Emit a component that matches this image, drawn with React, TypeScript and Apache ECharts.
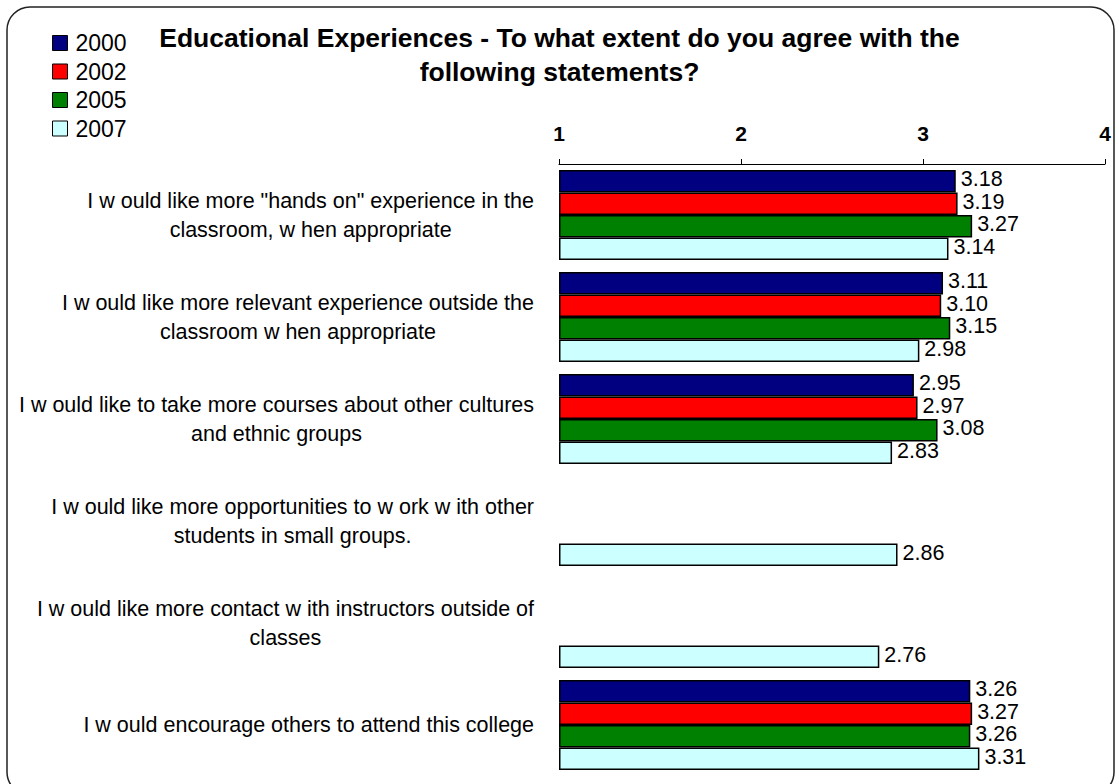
import React, { useEffect, useRef } from 'react';
import * as echarts from 'echarts';

const categories = [
  'I w ould like more "hands on" experience in the\nclassroom, w hen appropriate',
  'I w ould like more relevant experience outside the\nclassroom w hen appropriate',
  'I w ould like to take more courses about other cultures\nand ethnic groups',
  'I w ould like more opportunities to w ork w ith other\nstudents in small groups.',
  'I w ould like more contact w ith instructors outside of\nclasses',
  'I w ould encourage others to attend this college',
];
const years = ['2000', '2002', '2005', '2007'];
const values2000 = [3.18, 3.11, 2.95, null, null, 3.26];
const values2002 = [3.19, 3.1, 2.97, null, null, 3.27];
const values2005 = [3.27, 3.15, 3.08, null, null, 3.26];
const values2007 = [3.14, 2.98, 2.83, 2.86, 2.76, 3.31];
const seriesValues = [values2000, values2002, values2005, values2007];
const colors = ['#000080', '#FF0000', '#008000', '#CCFFFF'];
const axisMin = 1;
const axisMax = 4;
const axisStep = 1;
const titleText = 'Educational Experiences - To what extent do you agree with the\nfollowing statements?';

const FONT = '"Liberation Sans", Arial, sans-serif';
const CAT_SIZE = 21.5;

export default function App() {
  const ref = useRef<HTMLDivElement>(null);
  useEffect(() => {
    if (!ref.current) return;
    const chart = echarts.init(ref.current, null, { renderer: 'svg' });

    const canvas = document.createElement('canvas');
    const ctx = canvas.getContext('2d')!;
    ctx.font = `${CAT_SIZE}px "Liberation Sans"`;
    const rich: Record<string, any> = {};
    categories.forEach((c, i) => {
      const w = Math.max(...c.split('\n').map((l) => ctx.measureText(l).width)) + 2;
      rich['r' + i] = {
        width: w,
        align: 'center',
        fontSize: CAT_SIZE,
        lineHeight: 29,
        fontFamily: FONT,
        color: '#000',
      };
    });

    chart.setOption({
      animation: false,
      backgroundColor: '#fff',
      title: {
        text: titleText,
        left: 'center',
        top: 21,
        padding: 0,
        textStyle: {
          fontSize: 26.5,
          fontWeight: 'bold',
          lineHeight: 34,
          fontFamily: FONT,
          color: '#000',
        },
      },
      legend: {
        orient: 'vertical',
        left: 52,
        top: 29,
        padding: 0,
        itemGap: 0.5,
        itemWidth: 15,
        itemHeight: 15,
        icon: 'rect',
        data: years,
        textStyle: {
          fontSize: 23,
          lineHeight: 28,
          fontFamily: FONT,
          color: '#000',
          padding: [0, 0, 0, 3],
        },
        itemStyle: { borderColor: '#000', borderWidth: 1 },
      },
      graphic: [
        {
          type: 'rect',
          silent: true,
          z: -1,
          shape: { x: 7, y: 7, width: 1107, height: 788, r: 23 },
          style: { fill: 'none', stroke: '#222', lineWidth: 1.5 },
        },
      ],
      grid: { left: 559, right: 14, top: 164, bottom: 8, containLabel: false },
      xAxis: {
        type: 'value',
        position: 'top',
        min: axisMin,
        max: axisMax,
        interval: axisStep,
        startValue: axisMin,
        axisLine: { show: true, lineStyle: { color: '#000', width: 1 } },
        axisTick: { show: true, length: 5, lineStyle: { color: '#000' } },
        axisLabel: {
          fontSize: 21,
          fontWeight: 'bold',
          color: '#000',
          fontFamily: FONT,
          margin: 20,
        },
        splitLine: { show: false },
      },
      yAxis: {
        type: 'category',
        inverse: true,
        data: categories,
        axisLine: { show: false },
        axisTick: { show: false },
        axisLabel: {
          margin: 24,
          formatter: (v: string, i: number) =>
            v
              .split('\n')
              .map((l) => `{r${i}|${l}}`)
              .join('\n'),
          rich,
        },
      },
      series: years.map((y, i) => ({
        name: y,
        type: 'bar',
        data: seriesValues[i],
        barGap: '0%',
        barCategoryGap: '12%',
        clip: true,
        itemStyle: { color: colors[i], borderColor: '#000', borderWidth: 1.5 },
        label: {
          show: true,
          position: 'right',
          distance: 5,
          offset: [0, -2],
          formatter: (p: any) => (p.value == null ? '' : Number(p.value).toFixed(2)),
          fontSize: 21.5,
          fontFamily: FONT,
          color: '#000',
        },
      })),
    });
    return () => chart.dispose();
  }, []);
  return (
    <div
      ref={ref}
      style={{ position: 'fixed', left: 0, top: 0, width: 1119, height: 784 }}
    />
  );
}
